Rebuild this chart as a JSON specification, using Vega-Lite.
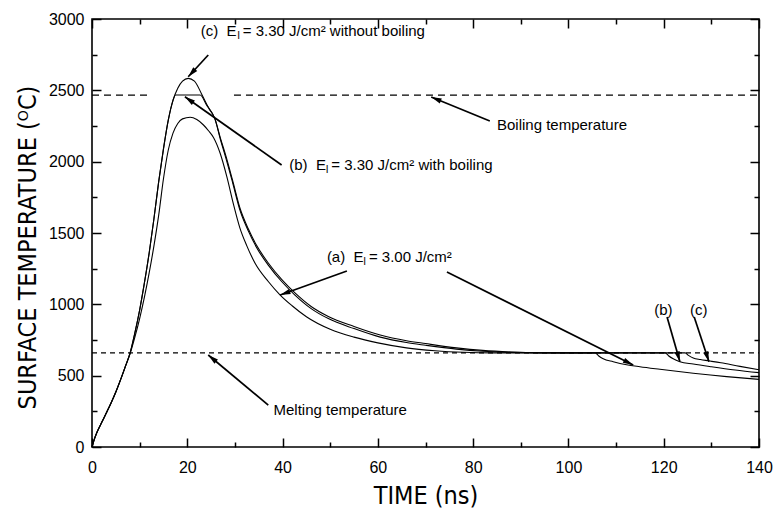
{
  "$schema": "https://vega.github.io/schema/vega-lite/v6.json",
  "width": 667,
  "height": 428,
  "autosize": "none",
  "padding": {"left": 92, "top": 19, "right": 14, "bottom": 61},
  "background": "white",
  "config": {
    "view": {"stroke": "black", "strokeWidth": 1.6},
    "axis": {
      "domain": false, "grid": false, "tickColor": "black", "tickWidth": 1.5,
      "labelFont": "Liberation Sans", "labelFontSize": 16, "labelColor": "black",
      "labelFlush": false, "labelOverlap": false,
      "titleFont": "Liberation Sans Narrow, DejaVu Sans Condensed, Liberation Sans",
      "titleFontSize": 25, "titleFontWeight": "normal", "titleColor": "black"
    }
  },
  "datasets": {
    "curves": [
      {"s":"a","t":0,"T":0},{"s":"a","t":0.5,"T":55},{"s":"a","t":1,"T":100},{"s":"a","t":2,"T":170},{"s":"a","t":3,"T":238},{"s":"a","t":4,"T":308},{"s":"a","t":5,"T":385},{"s":"a","t":6,"T":472},{"s":"a","t":7,"T":563},{"s":"a","t":8,"T":655},
      {"s":"a","t":9,"T":770},{"s":"a","t":10,"T":900},{"s":"a","t":11,"T":1050},{"s":"a","t":12,"T":1220},{"s":"a","t":13,"T":1410},{"s":"a","t":14,"T":1625},{"s":"a","t":15,"T":1880},{"s":"a","t":16,"T":2080},{"s":"a","t":17,"T":2200},{"s":"a","t":18,"T":2268},{"s":"a","t":19,"T":2300},{"s":"a","t":20.6,"T":2311},{"s":"a","t":22,"T":2295},{"s":"a","t":23.4,"T":2257},{"s":"a","t":24.5,"T":2215},{"s":"a","t":25.5,"T":2170},{"s":"a","t":26.9,"T":2059},{"s":"a","t":28.3,"T":1895},{"s":"a","t":29.7,"T":1700},{"s":"a","t":31,"T":1540},{"s":"a","t":32.5,"T":1410},{"s":"a","t":34.2,"T":1290},{"s":"a","t":37,"T":1160},{"s":"a","t":39.5,"T":1065},{"s":"a","t":42,"T":990},{"s":"a","t":45,"T":913},{"s":"a","t":50,"T":825},{"s":"a","t":55,"T":770},{"s":"a","t":60,"T":730},{"s":"a","t":66,"T":695},{"s":"a","t":72,"T":675},{"s":"a","t":78,"T":664},{"s":"a","t":84,"T":660},{"s":"a","t":105.6,"T":660},{"s":"a","t":106.3,"T":640},{"s":"a","t":107.3,"T":618},{"s":"a","t":109.4,"T":598},{"s":"a","t":112.2,"T":577},{"s":"a","t":115,"T":563},{"s":"a","t":119.2,"T":545},{"s":"a","t":126.2,"T":517},{"s":"a","t":133.2,"T":493},{"s":"a","t":140,"T":474},
      {"s":"b","t":0,"T":0},{"s":"b","t":0.5,"T":55},{"s":"b","t":1,"T":100},{"s":"b","t":2,"T":170},{"s":"b","t":3,"T":238},{"s":"b","t":4,"T":308},{"s":"b","t":5,"T":385},{"s":"b","t":6,"T":472},{"s":"b","t":7,"T":565},{"s":"b","t":8,"T":660},
      {"s":"b","t":9,"T":800},{"s":"b","t":10,"T":960},{"s":"b","t":11,"T":1150},{"s":"b","t":12,"T":1360},{"s":"b","t":13,"T":1600},{"s":"b","t":14,"T":1860},{"s":"b","t":15,"T":2090},{"s":"b","t":16,"T":2290},{"s":"b","t":17,"T":2430},{"s":"b","t":17.5,"T":2467},{"s":"b","t":22.7,"T":2467},{"s":"b","t":24,"T":2400},{"s":"b","t":25.8,"T":2300},{"s":"b","t":27,"T":2150},{"s":"b","t":28.1,"T":2025},{"s":"b","t":29.5,"T":1855},{"s":"b","t":31.1,"T":1655},{"s":"b","t":32.8,"T":1515},{"s":"b","t":34.6,"T":1395},{"s":"b","t":37,"T":1275},{"s":"b","t":39.8,"T":1160},{"s":"b","t":42.6,"T":1065},{"s":"b","t":46,"T":970},{"s":"b","t":49.6,"T":900},{"s":"b","t":55,"T":830},{"s":"b","t":60.5,"T":770},{"s":"b","t":66,"T":732},{"s":"b","t":70,"T":713},{"s":"b","t":76.5,"T":686},{"s":"b","t":82,"T":671},{"s":"b","t":88,"T":663},{"s":"b","t":94,"T":660},{"s":"b","t":120.3,"T":660},{"s":"b","t":121,"T":640},{"s":"b","t":122,"T":618},{"s":"b","t":123.4,"T":598},{"s":"b","t":126.2,"T":582},{"s":"b","t":130,"T":563},{"s":"b","t":135,"T":540},{"s":"b","t":140,"T":521},
      {"s":"c","t":0,"T":0},{"s":"c","t":0.5,"T":55},{"s":"c","t":1,"T":100},{"s":"c","t":2,"T":170},{"s":"c","t":3,"T":238},{"s":"c","t":4,"T":308},{"s":"c","t":5,"T":385},{"s":"c","t":6,"T":472},{"s":"c","t":7,"T":565},{"s":"c","t":8,"T":660},
      {"s":"c","t":9,"T":800},{"s":"c","t":10,"T":960},{"s":"c","t":11,"T":1150},{"s":"c","t":12,"T":1360},{"s":"c","t":13,"T":1600},{"s":"c","t":14,"T":1860},{"s":"c","t":15,"T":2090},{"s":"c","t":16,"T":2290},{"s":"c","t":17,"T":2430},{"s":"c","t":18,"T":2515},{"s":"c","t":19,"T":2565},{"s":"c","t":20.2,"T":2584},{"s":"c","t":21.5,"T":2565},{"s":"c","t":23,"T":2475},{"s":"c","t":24.5,"T":2375},{"s":"c","t":25.8,"T":2300},{"s":"c","t":27,"T":2160},{"s":"c","t":28.1,"T":2040},{"s":"c","t":29.5,"T":1870},{"s":"c","t":31.1,"T":1670},{"s":"c","t":32.8,"T":1530},{"s":"c","t":34.6,"T":1410},{"s":"c","t":37,"T":1290},{"s":"c","t":39.8,"T":1175},{"s":"c","t":42.6,"T":1080},{"s":"c","t":46,"T":985},{"s":"c","t":49.6,"T":915},{"s":"c","t":55,"T":845},{"s":"c","t":60.5,"T":785},{"s":"c","t":66,"T":745},{"s":"c","t":70,"T":725},{"s":"c","t":76.5,"T":695},{"s":"c","t":82,"T":677},{"s":"c","t":88,"T":666},{"s":"c","t":94,"T":661},{"s":"c","t":100,"T":660},{"s":"c","t":124.5,"T":660},{"s":"c","t":125.2,"T":642},{"s":"c","t":126.2,"T":624},{"s":"c","t":127.7,"T":613},{"s":"c","t":129.4,"T":604},{"s":"c","t":132,"T":590},{"s":"c","t":136,"T":565},{"s":"c","t":140,"T":542}
    ],
    "boiling": [{"x1":0,"x2":12.6,"y":2467},{"x1":29.8,"x2":140,"y":2467}],
    "melting": [{"x1":0,"x2":140,"y":660}],
    "arrows": [
      {"x":24.4,"y":2748,"x2":20.2,"y2":2595},
      {"x":39.8,"y":1977,"x2":19.5,"y2":2455},
      {"x":53.5,"y":1234,"x2":39.5,"y2":1065},
      {"x":74.5,"y":1227,"x2":113.6,"y2":575},
      {"x":83.5,"y":2285,"x2":71.2,"y2":2453},
      {"x":37.0,"y":294,"x2":24.4,"y2":645},
      {"x":120.7,"y":911,"x2":123.4,"y2":598},
      {"x":126.4,"y":911,"x2":129.5,"y2":598}
    ],
    "labels": [
      {"x":22.82,"y":2916,"text":"(c)\u00a0\u00a0E"},
      {"x":31.64,"y":2916,"text":"= 3.30 J/cm² without boiling"},
      {"x":41.4,"y":1977,"text":"(b)\u00a0\u00a0E"},
      {"x":50.22,"y":1977,"text":"= 3.30 J/cm² with boiling"},
      {"x":49.3,"y":1334,"text":"(a)\u00a0\u00a0E"},
      {"x":58.12,"y":1334,"text":"= 3.00 J/cm²"},
      {"x":85.0,"y":2257,"text":"Boiling temperature"},
      {"x":38.1,"y":259,"text":"Melting temperature"},
      {"x":118.0,"y":962,"text":"(b)"},
      {"x":125.5,"y":962,"text":"(c)"}
    ],
    "subs": [
      {"x":30.48,"y":2916,"text":"I"},
      {"x":49.06,"y":1977,"text":"I"},
      {"x":56.96,"y":1334,"text":"I"}
    ]
  },
  "resolve": {"axis": {"x": "independent", "y": "independent"}},
  "layer": [
    {
      "data": {"name": "curves"},
      "mark": {"type": "line", "color": "black", "strokeWidth": 1.1, "interpolate": "monotone"},
      "encoding": {
        "x": {"field": "t", "type": "quantitative", "scale": {"domain": [0, 140], "nice": false, "zero": false},
              "axis": {"orient": "bottom", "values": [0,20,40,60,80,100,120,140], "format": "d", "tickSize": -9, "labelPadding": 21, "title": "TIME (ns)", "titlePadding": 8}},
        "y": {"field": "T", "type": "quantitative", "scale": {"domain": [0, 3000], "nice": false, "zero": false},
              "axis": {"orient": "left", "values": [0,500,1000,1500,2000,2500,3000], "format": "d", "tickSize": -9, "labelPadding": 17, "title": "SURFACE TEMPERATURE (ᴼC)", "titlePadding": 8, "titleY": 228}},
        "detail": {"field": "s"}
      }
    },
    {
      "data": {"name": "boiling"},
      "mark": {"type": "rule", "color": "black", "strokeWidth": 1.2, "strokeDash": [7, 5]},
      "encoding": {
        "x": {"field": "x1", "type": "quantitative", "scale": {"domain": [0, 140], "nice": false, "zero": false},
              "axis": {"orient": "bottom", "values": [10,30,50,70,90,110,130], "tickSize": -5, "labels": false, "title": null}},
        "x2": {"field": "x2"},
        "y": {"field": "y", "type": "quantitative", "scale": {"domain": [0, 3000], "nice": false, "zero": false},
              "axis": {"orient": "left", "values": [250,750,1250,1750,2250,2750], "tickSize": -5, "labels": false, "title": null}}
      }
    },
    {
      "data": {"name": "melting"},
      "mark": {"type": "rule", "color": "black", "strokeWidth": 1.1, "strokeDash": [5, 4]},
      "encoding": {
        "x": {"field": "x1", "type": "quantitative", "scale": {"domain": [0, 140], "nice": false, "zero": false}, "axis": null},
        "x2": {"field": "x2"},
        "y": {"field": "y", "type": "quantitative", "scale": {"domain": [0, 3000], "nice": false, "zero": false}, "axis": null}
      }
    },
    {
      "data": {"name": "arrows"},
      "mark": {"type": "rule", "color": "black", "strokeWidth": 1.7},
      "encoding": {
        "x": {"field": "x", "type": "quantitative", "scale": {"domain": [0, 140], "nice": false, "zero": false},
              "axis": {"orient": "top", "values": [0,20,40,60,80,100,120,140], "tickSize": -9, "labels": false, "title": null}},
        "y": {"field": "y", "type": "quantitative", "scale": {"domain": [0, 3000], "nice": false, "zero": false},
              "axis": {"orient": "right", "values": [0,500,1000,1500,2000,2500,3000], "tickSize": -9, "labels": false, "title": null}},
        "x2": {"field": "x2"},
        "y2": {"field": "y2"}
      }
    },
    {
      "data": {"name": "arrows"},
      "transform": [
        {"calculate": "atan2((datum.x2 - datum.x) * 667 / 140, (datum.y2 - datum.y) * 428 / 3000) * 180 / PI", "as": "ang"}
      ],
      "mark": {"type": "point", "shape": "M0,0L0.6,2.3L-0.6,2.3Z", "filled": true, "color": "black", "opacity": 1, "size": 81},
      "encoding": {
        "x": {"field": "x2", "type": "quantitative", "scale": {"domain": [0, 140], "nice": false, "zero": false},
              "axis": {"orient": "top", "values": [10,30,50,70,90,110,130], "tickSize": -5, "labels": false, "title": null}},
        "y": {"field": "y2", "type": "quantitative", "scale": {"domain": [0, 3000], "nice": false, "zero": false},
              "axis": {"orient": "right", "values": [250,750,1250,1750,2250,2750], "tickSize": -5, "labels": false, "title": null}},
        "angle": {"field": "ang", "type": "quantitative", "scale": null}
      }
    },
    {
      "data": {"name": "labels"},
      "mark": {"type": "text", "align": "left", "baseline": "middle", "font": "Liberation Sans", "fontSize": 15, "color": "black"},
      "encoding": {
        "x": {"field": "x", "type": "quantitative", "scale": {"domain": [0, 140], "nice": false, "zero": false}, "axis": null},
        "y": {"field": "y", "type": "quantitative", "scale": {"domain": [0, 3000], "nice": false, "zero": false}, "axis": null},
        "text": {"field": "text"}
      }
    },
    {
      "data": {"name": "subs"},
      "mark": {"type": "text", "align": "left", "baseline": "middle", "font": "Liberation Sans", "fontSize": 10, "dy": 5, "color": "black"},
      "encoding": {
        "x": {"field": "x", "type": "quantitative", "scale": {"domain": [0, 140], "nice": false, "zero": false}, "axis": null},
        "y": {"field": "y", "type": "quantitative", "scale": {"domain": [0, 3000], "nice": false, "zero": false}, "axis": null},
        "text": {"field": "text"}
      }
    }
  ]
}
